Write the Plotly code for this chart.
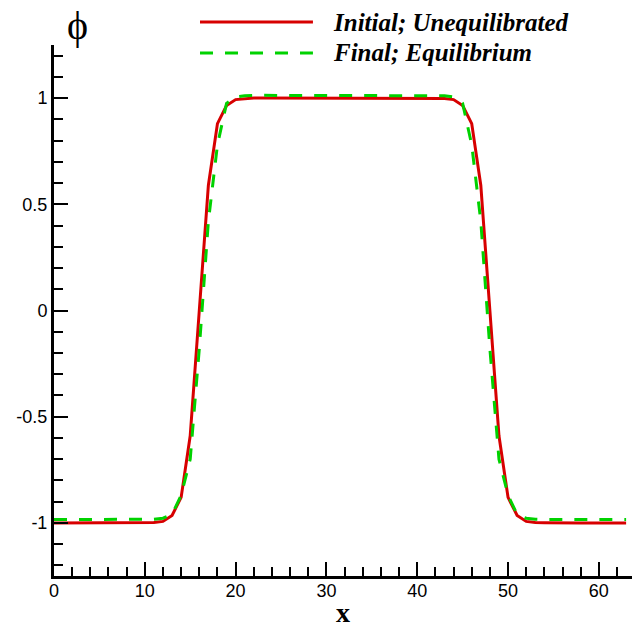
import plotly.graph_objects as go

# ---- data ----
x_vals = list(range(64))

phi_initial = [
    -1.0, -1.0, -1.0, -1.0, -1.0, -1.0, -1.0, -1.0, -1.0, -1.0,
    -0.999, -0.998, -0.993, -0.965, -0.88, -0.59, 0.0, 0.59, 0.88, 0.965,
    0.993, 0.998, 1.0, 1.0, 1.0, 1.0, 1.0, 1.0, 1.0, 1.0,
    1.0, 1.0, 1.0, 1.0, 1.0, 1.0, 1.0, 1.0, 1.0, 1.0,
    1.0, 1.0, 1.0, 0.998, 0.993, 0.965, 0.88, 0.59, 0.0, -0.59,
    -0.88, -0.965, -0.993, -0.998, -0.999, -1.0, -1.0, -1.0, -1.0, -1.0,
    -1.0, -1.0, -1.0, -1.0,
]

phi_final = [
    -0.984, -0.984, -0.984, -0.984, -0.984, -0.984, -0.984, -0.984, -0.984, -0.984,
    -0.984, -0.983, -0.978, -0.96, -0.87, -0.70, -0.18, 0.42, 0.78, 0.975,
    1.005, 1.011, 1.013, 1.013, 1.013, 1.013, 1.013, 1.013, 1.013, 1.013,
    1.013, 1.013, 1.013, 1.013, 1.013, 1.013, 1.013, 1.013, 1.013, 1.013,
    1.013, 1.013, 1.013, 1.011, 1.005, 0.975, 0.78, 0.42, -0.18, -0.70,
    -0.87, -0.96, -0.978, -0.983, -0.984, -0.984, -0.984, -0.984, -0.984, -0.984,
    -0.984, -0.984, -0.984, -0.984,
]

series_names = ["Initial; Unequilibrated", "Final; Equilibrium"]

x_tickvals = [0, 10, 20, 30, 40, 50, 60]
x_ticktext = ["0", "10", "20", "30", "40", "50", "60"]
y_tickvals = [-1, -0.5, 0, 0.5, 1]
y_ticktext = ["-1", "-0.5", "0", "0.5", "1"]

RED = "rgb(215,0,0)"
GREEN = "rgb(0,210,0)"
DASH = "13px,12px"

fig = go.Figure()
fig.add_trace(go.Scatter(x=x_vals, y=phi_initial, mode="lines",
                         line=dict(color=RED, width=3), showlegend=False,
                         name=series_names[0]))
fig.add_trace(go.Scatter(x=x_vals, y=phi_final, mode="lines",
                         line=dict(color=GREEN, width=3, dash=DASH),
                         showlegend=False, name=series_names[1]))

tickfont = dict(family="Liberation Sans, Arial", size=18, color="black")

fig.update_layout(
    width=632, height=630,
    margin=dict(l=54, r=0, t=45, b=54),
    paper_bgcolor="white", plot_bgcolor="white",
    xaxis=dict(range=[0, 63.65], showgrid=False, zeroline=False,
               showline=True, linecolor="black", linewidth=3,
               ticks="inside", ticklen=14, tickwidth=2, tickcolor="black",
               tickvals=x_tickvals, ticktext=x_ticktext, tickfont=tickfont,
               minor=dict(ticks="inside", ticklen=9, tickwidth=1.5,
                          tickcolor="black", dtick=2, showgrid=False),
               ticklabelstandoff=-4),
    yaxis=dict(range=[-1.25, 1.25], showgrid=False, zeroline=False,
               showline=True, linecolor="black", linewidth=3,
               ticks="inside", ticklen=14, tickwidth=2, tickcolor="black",
               tickvals=y_tickvals, ticktext=y_ticktext, tickfont=tickfont,
               minor=dict(ticks="inside", ticklen=9, tickwidth=1.5,
                          tickcolor="black", dtick=0.1, tick0=0, showgrid=False),
               ticklabelstandoff=0),
)

# legend drawn manually (long sample lines as in the reference)
legend_y = [1.0433, 0.985]
legend_colors = [RED, GREEN]
legend_dash = ["solid", DASH]
for yy, col, dsh, name in zip(legend_y, legend_colors, legend_dash, series_names):
    fig.add_shape(type="line", xref="paper", yref="paper",
                  x0=0.2526, x1=0.448, y0=yy, y1=yy,
                  line=dict(color=col, width=3, dash=dsh))
    fig.add_annotation(xref="paper", yref="paper", x=0.479, y=yy,
                       xanchor="left", yanchor="middle", showarrow=False,
                       text="<b><i>%s</i></b>" % name,
                       font=dict(family="Liberation Serif, Times New Roman", size=25,
                                 color="black"))

# axis titles
fig.add_annotation(xref="paper", yref="paper", x=0.5, y=-0.068,
                   xanchor="center", yanchor="middle", showarrow=False,
                   text="<b>x</b>",
                   font=dict(family="Liberation Serif, Times New Roman", size=28, color="black"))
fig.add_annotation(xref="paper", yref="paper", x=0.041, y=1.036,
                   xanchor="center", yanchor="middle", showarrow=False,
                   text="ϕ",
                   font=dict(family="Liberation Serif, Times New Roman", size=40, color="black"))

fig.write_html("out.html")
